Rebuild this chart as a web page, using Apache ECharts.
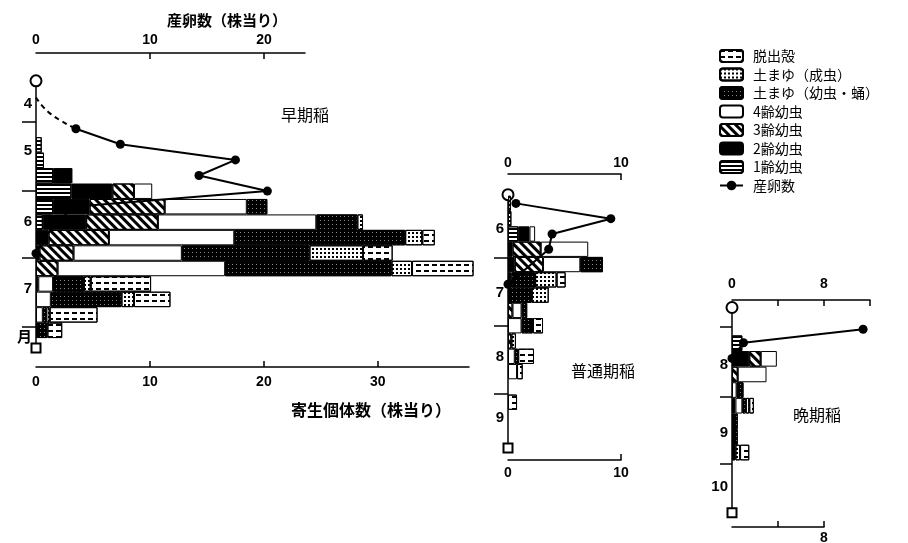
<!DOCTYPE html>
<html>
<head>
<meta charset="utf-8">
<script src="https://cdn.jsdelivr.net/npm/echarts@6/dist/echarts.min.js"></script>
<style>
  html, body { margin: 0; background: #fff; }
  #chart { width: 908px; height: 543px; }
</style>
</head>
<body>
<div id="chart"></div>
<script>
  // stage names, stacked left -> right
  const stages = ['1齢幼虫', '2齢幼虫', '3齢幼虫', '4齢幼虫', '土まゆ（幼虫・蛹）', '土まゆ（成虫）', '脱出殻']
  const legendNames = ['脱出殻', '土まゆ（成虫）', '土まゆ（幼虫・蛹）', '4齢幼虫', '3齢幼虫', '2齢幼虫', '1齢幼虫', '産卵数']

  // ---- 早期稲 ----
  const earlyDates = ['5/11', '5/18', '5/25', '6/1', '6/8', '6/15', '6/22', '6/29', '7/6', '7/13', '7/20', '7/27', '8/3']
  const earlyInstar1 = [0.5, 0.7, 1.5, 3.1, 1.5, 0.6, 0, 0, 0, 0, 0, 0, 0]
  const earlyInstar2 = [0, 0, 1.7, 3.6, 3.2, 3.8, 1.1, 0.3, 0, 0, 0, 0, 0]
  const earlyInstar3 = [0, 0, 0, 1.9, 6.6, 6.3, 5.3, 3.0, 1.9, 0.2, 0, 0, 0]
  const earlyInstar4 = [0, 0, 0, 1.6, 7.2, 13.9, 11.0, 9.5, 14.7, 1.3, 1.3, 0.6, 0]
  const earlyCocoonLarva = [0, 0, 0, 0, 1.8, 3.6, 15.0, 11.2, 14.6, 2.7, 6.2, 0.3, 1.0]
  const earlyCocoonAdult = [0, 0, 0, 0, 0, 0.5, 1.5, 4.7, 1.8, 0.6, 1.1, 0.3, 0]
  const earlyExuviae = [0, 0, 0, 0, 0, 0, 1.1, 2.6, 5.4, 5.3, 3.2, 4.2, 1.3]
  const earlyEggDates = ['5/4', '5/11', '5/18', '5/25', '6/1', '6/8', '6/15', '6/22', '6/29']
  const earlyEggs = [3.5, 7.4, 17.5, 14.3, 20.3, 3.3, 1.9, 0.7, 0]
  const earlyEggGuessDates = ['4/20', '4/27', '5/4']
  const earlyEggGuess = [0, 1.2, 3.5]
  const earlyPeriod = ['4/12', '8/11']
  const earlyMonthTicks = ['5/1', '6/1', '7/1', '8/1']
  const earlyMonthLabelDates = ['4/23', '5/14', '6/15', '7/15', '8/6']
  const earlyMonthLabels = ['4', '5', '6', '7', '月']

  // ---- 普通期稲 ----
  const normalDates = ['6/6', '6/13', '6/20', '6/27', '7/4', '7/11', '7/18', '7/25', '8/1', '8/8', '8/15', '8/22', '8/29', '9/5']
  const normalInstar1 = [0.25, 0.3, 0.9, 0, 0, 0, 0, 0, 0, 0, 0, 0, 0, 0]
  const normalInstar2 = [0, 0, 1.0, 0.4, 0.6, 0.3, 0, 0, 0, 0, 0, 0, 0, 0]
  const normalInstar3 = [0, 0, 0, 2.5, 2.5, 0, 0, 0.4, 0, 0.3, 0, 0, 0, 0]
  const normalInstar4 = [0, 0, 0.5, 4.2, 3.3, 0, 0, 0.8, 1.2, 0, 0.6, 0.8, 0, 0]
  const normalCocoonLarva = [0, 0, 0, 0, 2.0, 2.1, 2.1, 0.5, 1.0, 0, 0.3, 0, 0, 0]
  const normalCocoonAdult = [0, 0, 0, 0, 0, 1.9, 1.5, 0, 0, 0.4, 0, 0, 0, 0]
  const normalExuviae = [0, 0, 0, 0, 0, 0.8, 0, 0, 0.9, 0, 1.4, 0.5, 0, 0.8]
  const normalEggDates = ['6/6', '6/13', '6/20', '6/27', '7/13']
  const normalEggs = [0.7, 9.1, 3.9, 3.6, 0]
  const normalPeriod = ['6/2', '9/26']
  const normalMonthTicks = ['7/1', '8/1', '9/1']
  const normalMonthLabelDates = ['6/18', '7/17', '8/15', '9/12']
  const normalMonthLabels = ['6', '7', '8', '9']

  // ---- 晩期稲 ----
  const lateDates = ['8/8', '8/15', '8/22', '8/29', '9/5', '9/12', '9/19', '9/26']
  const lateInstar1 = [0.9, 0, 0, 0, 0, 0, 0, 0]
  const lateInstar2 = [0, 1.5, 0, 0, 0.3, 0, 0, 0]
  const lateInstar3 = [0, 1.0, 0.5, 0, 0, 0, 0, 0]
  const lateInstar4 = [0, 1.4, 2.5, 0.4, 0.6, 0, 0, 0]
  const lateCocoonLarva = [0, 0, 0, 0.6, 0.3, 0.5, 0.5, 0.3]
  const lateCocoonAdult = [0, 0, 0, 0, 0.3, 0, 0, 0.4]
  const lateExuviae = [0, 0, 0, 0, 0.4, 0, 0, 0.8]
  const lateEggDates = ['8/2', '8/8', '8/15']
  const lateEggs = [11.4, 1.0, 0]
  const latePeriod = ['7/23', '10/23']
  const lateMonthTicks = ['8/1', '9/1', '10/1']
  const lateMonthLabelDates = ['8/18', '9/17', '10/11']
  const lateMonthLabels = ['8', '9', '10']

  // x axis ticks / labels
  const earlyCountTicks = [10, 20, 30]
  const earlyCountLabels = [0, 10, 20, 30]
  const earlyEggTicks = [10, 20]
  const earlyEggLabels = [0, 10, 20]
  const normalTicks = [10]
  const normalLabels = [0, 10]
  const lateCountTicks = [4, 8]
  const lateCountLabels = [8]
  const lateEggTicks = [4, 8, 12]
  const lateEggLabels = [0, 8]

  const DAY = 86400000
  const WEEK = 7 * DAY
  const t = s => {
    const [m, d] = s.split('/').map(Number)
    return new Date(1985, m - 1, d).getTime()
  }

  const JP = "'Noto Sans CJK JP', sans-serif"
  const NUM = "'Liberation Sans', 'Noto Sans CJK JP', sans-serif"

  const stageStyle = {
    '1齢幼虫': { color: '#fff', decal: { symbol: 'rect', symbolSize: 1, dashArrayX: [10, 0], dashArrayY: [2, 1.6], color: '#000' } },
    '2齢幼虫': { color: '#000' },
    '3齢幼虫': { color: '#fff', decal: { symbol: 'rect', symbolSize: 1, dashArrayX: [10, 0], dashArrayY: [2.5, 2.5], rotation: Math.PI / 4, color: '#000' } },
    '4齢幼虫': { color: '#fff' },
    '土まゆ（幼虫・蛹）': { color: '#000', decal: { symbol: 'rect', symbolSize: 1, dashArrayX: [1, 3], dashArrayY: [1, 3], color: '#888' } },
    '土まゆ（成虫）': { color: '#fff', decal: { symbol: 'rect', symbolSize: 1, dashArrayX: [1.3, 1.7], dashArrayY: [1.3, 1.7], color: '#000' } },
    '脱出殻': { color: '#fff', decal: { symbol: 'rect', symbolSize: 1, dashArrayX: [5, 2.5], dashArrayY: [1.2, 3.3], color: '#000' } }
  }

  function barSeries(dates, cols, xi, yi, stack) {
    return stages.map((name, k) => ({
      type: 'bar',
      name: name,
      stack: stack,
      xAxisIndex: xi,
      yAxisIndex: yi,
      barWidth: '100%',
      clip: false,
      z: 2,
      itemStyle: Object.assign({ borderColor: '#000', borderWidth: 1 }, stageStyle[name]),
      emphasis: { disabled: true },
      data: dates.map((d, i) => [cols[k][i] || null, t(d)])
    }))
  }

  function eggSeries(dates, vals, xi, yi, dashed) {
    return {
      type: 'line',
      name: dashed ? '産卵数（推定）' : '産卵数',
      xAxisIndex: xi,
      yAxisIndex: yi,
      z: 4,
      smooth: dashed ? 0.5 : false,
      symbol: 'circle',
      symbolSize: 9,
      showSymbol: !dashed,
      color: '#000',
      lineStyle: { color: '#000', width: 2, type: dashed ? [5, 4] : 'solid' },
      emphasis: { disabled: true },
      data: dates.map((d, i) => [vals[i], t(d)])
    }
  }

  function periodSeries(period, xi, yi) {
    return {
      type: 'line',
      name: '栽培期間',
      xAxisIndex: xi,
      yAxisIndex: yi,
      z: 1,
      color: '#000',
      lineStyle: { color: '#000', width: 1.5 },
      itemStyle: { color: '#000', borderWidth: 1.5 },
      emphasis: { disabled: true },
      data: [
        { value: [0, t(period[0])], symbol: 'emptyCircle', symbolSize: 11 },
        { value: [0, t(period[1])], symbol: 'emptyRect', symbolSize: 9 }
      ]
    }
  }

  function countAxis(gridIndex, position, max, ticks, labels, margin) {
    return {
      type: 'value',
      gridIndex: gridIndex,
      position: position,
      min: 0,
      max: max,
      splitLine: { show: false },
      axisLine: { show: true, onZero: false, lineStyle: { color: '#000', width: 1.5 } },
      axisTick: { show: true, inside: true, length: 6, customValues: ticks, lineStyle: { color: '#000', width: 1.5 } },
      axisLabel: { customValues: labels, margin: margin, color: '#000', fontSize: 14, fontWeight: 'bold', fontFamily: NUM }
    }
  }

  // bars sit on a hidden time axis; month ticks/labels come from a value axis over the same span.
  // A time axis holding bars is widened by ECharts by one bar band (one week here),
  // so its min/max are pulled in by half a week to keep the same day scale.
  function timeAxis(gridIndex, range, hasBars) {
    const pad = hasBars ? WEEK / 2 : 0
    return { type: 'time', gridIndex: gridIndex, inverse: true, show: false, min: t(range[0]) + pad, max: t(range[1]) - pad }
  }

  function monthAxis(gridIndex, range, ticks, labelDates, labels, tickLen) {
    const map = {}
    labelDates.forEach((d, i) => { map[t(d)] = labels[i] })
    return {
      type: 'value',
      gridIndex: gridIndex,
      position: 'left',
      inverse: true,
      min: t(range[0]),
      max: t(range[1]),
      splitLine: { show: false },
      axisLine: { show: false },
      axisTick: { show: true, length: tickLen, customValues: ticks.map(t), lineStyle: { color: '#000', width: 1.5 } },
      axisLabel: {
        customValues: labelDates.map(t),
        formatter: v => map[v] || '',
        margin: 4,
        color: '#000',
        fontSize: 15,
        fontWeight: 'bold',
        fontFamily: NUM
      }
    }
  }

  const earlyRange = ['3/31', '8/19']
  const normalRange = ['5/24', '10/1']
  const lateRange = ['7/20', '10/29']

  const option = {
    backgroundColor: '#fff',
    animation: false,
    grid: [
      { left: 36, top: 53, width: 433, height: 314, outerBoundsMode: 'none' },
      { left: 36, top: 53, width: 269, height: 314, outerBoundsMode: 'none' },
      { left: 508, top: 174, width: 113, height: 286, outerBoundsMode: 'none' },
      { left: 732, top: 300, width: 92, height: 227, outerBoundsMode: 'none' },
      { left: 732, top: 300, width: 138, height: 227, outerBoundsMode: 'none' }
    ],
    xAxis: [
      countAxis(0, 'bottom', 38, earlyCountTicks, earlyCountLabels, 8),
      countAxis(1, 'top', 23.6, earlyEggTicks, earlyEggLabels, 6),
      countAxis(2, 'bottom', 10, normalTicks, normalLabels, 6),
      countAxis(2, 'top', 10, normalTicks, normalLabels, 4),
      countAxis(3, 'bottom', 8, lateCountTicks, lateCountLabels, 4),
      countAxis(4, 'top', 12, lateEggTicks, lateEggLabels, 9)
    ],
    yAxis: [
      timeAxis(0, earlyRange, true),
      timeAxis(1, earlyRange, false),
      timeAxis(2, normalRange, true),
      timeAxis(3, lateRange, true),
      timeAxis(4, lateRange, false),
      monthAxis(0, earlyRange, earlyMonthTicks, earlyMonthLabelDates, earlyMonthLabels, 14),
      monthAxis(2, normalRange, normalMonthTicks, normalMonthLabelDates, normalMonthLabels, 14),
      monthAxis(3, lateRange, lateMonthTicks, lateMonthLabelDates, lateMonthLabels, 12)
    ],
    title: [
      { text: '産卵数（株当り）', left: 162, top: 8, textStyle: { fontSize: 15, fontWeight: 'bold', fontFamily: JP, color: '#000' } },
      { text: '寄生個体数（株当り）', left: 286, top: 397, textStyle: { fontSize: 16, fontWeight: 'bold', fontFamily: JP, color: '#000' } },
      { text: '早期稲', left: 276, top: 102, textStyle: { fontSize: 16, fontWeight: 'normal', fontFamily: JP, color: '#000' } },
      { text: '普通期稲', left: 566, top: 358, textStyle: { fontSize: 16, fontWeight: 'normal', fontFamily: JP, color: '#000' } },
      { text: '晩期稲', left: 788, top: 402, textStyle: { fontSize: 16, fontWeight: 'normal', fontFamily: JP, color: '#000' } }
    ],
    legend: {
      data: legendNames,
      orient: 'vertical',
      left: 714,
      top: 44,
      itemWidth: 23,
      itemHeight: 12,
      itemGap: 4.5,
      selectedMode: false,
      textStyle: { fontSize: 14, fontFamily: JP, color: '#000', padding: [0, 0, 0, 5] }
    },
    series: [
      ...barSeries(earlyDates, [earlyInstar1, earlyInstar2, earlyInstar3, earlyInstar4, earlyCocoonLarva, earlyCocoonAdult, earlyExuviae], 0, 0, 'early'),
      periodSeries(earlyPeriod, 0, 0),
      eggSeries(earlyEggGuessDates, earlyEggGuess, 1, 1, true),
      eggSeries(earlyEggDates, earlyEggs, 1, 1, false),

      ...barSeries(normalDates, [normalInstar1, normalInstar2, normalInstar3, normalInstar4, normalCocoonLarva, normalCocoonAdult, normalExuviae], 2, 2, 'normal'),
      periodSeries(normalPeriod, 2, 2),
      eggSeries(normalEggDates, normalEggs, 3, 2, false),

      ...barSeries(lateDates, [lateInstar1, lateInstar2, lateInstar3, lateInstar4, lateCocoonLarva, lateCocoonAdult, lateExuviae], 4, 3, 'late'),
      periodSeries(latePeriod, 4, 3),
      eggSeries(lateEggDates, lateEggs, 5, 4, false)
    ]
  }

  const chart = echarts.init(document.getElementById('chart'))
  chart.setOption(option)
</script>
</body>
</html>
